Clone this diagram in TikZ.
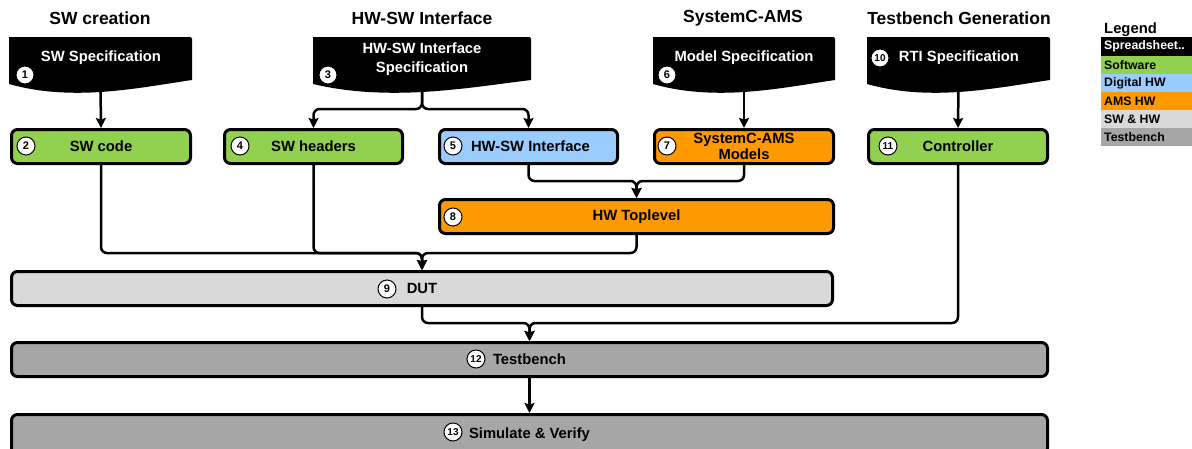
\documentclass[tikz,border=0pt]{standalone}
\usepackage{fontspec}
\setmainfont{Liberation Sans}
\usetikzlibrary{arrows.meta}
\definecolor{swgreen}{HTML}{92D050}
\definecolor{dhwblue}{HTML}{99CCFF}
\definecolor{amsorange}{HTML}{FF9900}
\definecolor{swhwgrey}{HTML}{D9D9D9}
\definecolor{tbgrey}{HTML}{A6A6A6}
\newcommand{\mydoc}[3]{%
  \fill[black] (#2,84) -- (#2,37) -- ({#3-2},37) to[out=0,in=90] (#3,39) -- (#3,80)
    .. controls ({#2+0.7*(#3-#2)},88) and ({#2+0.35*(#3-#2)},102) .. (#2,84) -- cycle;
  \coordinate (#1) at ({(#2+#3)/2},86);
}
\tikzset{
  hdr/.style={font=\bfseries\fontsize{17.5}{20}\selectfont},
  doctext/.style={text=white, font=\bfseries\fontsize{14.8}{18.5}\selectfont, align=center},
  boxtext/.style={font=\bfseries\fontsize{14.8}{15.5}\selectfont, align=center},
  procbox/.style={draw=black, line width=3pt, rounded corners=6pt, minimum height=34pt, inner sep=0pt},
  numc/.style={circle, draw=black, fill=white, line width=1pt, inner sep=0pt, minimum size=18pt,
    font=\bfseries\fontsize{11}{11}\selectfont},
  numw/.style={numc, font=\bfseries\fontsize{10}{10}\selectfont},
  conn/.style={line width=2.5pt, rounded corners=6pt, -{Stealth[length=10pt,width=10pt,inset=1.5pt]}},
  legrow/.style={anchor=west, inner sep=0pt, font=\bfseries\fontsize{12.3}{12}\selectfont},
}
\begin{document}
\begin{tikzpicture}[x=1pt,y=-1pt]
\path[use as bounding box] (0,0) rectangle (1192,448);
\clip (0,0) rectangle (1192,448);

% headers
\node[hdr] (h1) at (100,18) {SW creation};
\node[hdr] (h2) at (422,18) {HW-SW Interface};
\node[hdr] (h3) at (743,18) {SystemC-AMS};
\node[hdr] (h4) at (959,18) {Testbench Generation};

% documents
\mydoc{swspecB}{9}{192}
\mydoc{hwspecB}{313}{531}
\mydoc{modspecB}{653}{835}
\mydoc{rtispecB}{867}{1050}
\node[doctext] (t1) at (101,58) {SW Specification};
\node[numc] (n1) at (25,75) {1};
\node[doctext] (t3) at (422,59) {HW-SW Interface\\Specification};
\node[numc] (n3) at (328,75) {3};
\node[doctext] (t6) at (744,58) {Model Specification};
\node[numc] (n6) at (667,75) {6};
\node[doctext] (t10) at (959,58) {RTI Specification};
\node[numw] (n10) at (880,58) {10};

% process boxes
\node[procbox, fill=swgreen, minimum width=179pt, boxtext] (swcode) at (101,146.5) {SW code};
\node[procbox, fill=swgreen, minimum width=178pt, boxtext] (swhead) at (313.5,146.5) {SW headers};
\node[procbox, fill=dhwblue, minimum width=178pt, boxtext] (hwsw) at (528.5,146.5) {\hspace*{4pt}HW-SW Interface};
\node[procbox, fill=amsorange, minimum width=179pt, boxtext] (sams) at (744,146.5) {SystemC-AMS\\Models};
\node[procbox, fill=swgreen, minimum width=179pt, boxtext] (ctrl) at (958,146.5) {Controller};
\node[procbox, fill=amsorange, minimum width=394pt, boxtext] (hwtop) at (636.5,216.5) {HW Toplevel};
\node[procbox, fill=swhwgrey, minimum width=821pt, boxtext] (dut) at (422,288.5) {DUT};
\node[procbox, fill=tbgrey, minimum width=1036pt, boxtext] (tb) at (529.5,359.5) {Testbench};
\node[procbox, fill=tbgrey, minimum width=1036pt, minimum height=40pt, boxtext] (sim) at (529.5,434.5) {\raisebox{3pt}{Simulate \& Verify}};

\node[numc] (n2) at (26,146) {2};
\node[numc] (n4) at (240,146) {4};
\node[numc] (n5) at (453,146) {5};
\node[numc] (n7) at (667,146) {7};
\node[numw] (n11) at (888,146) {11};
\node[numc] (n8) at (453,217) {8};
\node[numc] (n9) at (387,289) {9};
\node[numw] (n12) at (476,359) {12};
\node[numw] (n13) at (453,432) {13};

% join points
\coordinate (s1) at (422,109);
\coordinate (j1) at (636.5,181);
\coordinate (j2) at (422,253);
\coordinate (j3) at (529.5,323);

% connectors
\draw[conn] (swspecB) -- (swcode.north);
\draw[conn] (hwspecB) -- (s1) -| (swhead.north);
\draw[conn] (hwspecB) -- (s1) -| (hwsw.north);
\draw[conn] (modspecB) -- (sams.north);
\draw[conn] (rtispecB) -- (ctrl.north);
\draw[conn] (hwsw.south) |- (j1) -- (hwtop.north);
\draw[conn] (sams.south) |- (j1) -- (hwtop.north);
\draw[conn] (swcode.south) |- (j2) -- (dut.north);
\draw[conn] (swhead.south) |- (j2) -- (dut.north);
\draw[conn] (hwtop.south) |- (j2) -- (dut.north);
\draw[conn] (dut.south) |- (j3) -- (tb.north);
\draw[conn] (ctrl.south) |- (j3) -- (tb.north);
\draw[conn] (tb.south) -- (sim.north);

% legend
\node[font=\bfseries\fontsize{14.8}{15}\selectfont, anchor=west, inner sep=0pt] (legt) at (1104,30) {Legend};
\fill[black] (1101,37) rectangle (1192,56);
\fill[swgreen] (1101,56) rectangle (1192,74);
\fill[dhwblue] (1101,74) rectangle (1192,92);
\fill[amsorange] (1101,92) rectangle (1192,110);
\fill[swhwgrey] (1101,110) rectangle (1192,128);
\fill[tbgrey] (1101,128) rectangle (1192,146);
\node[legrow, text=white] (l1) at (1104,46.5) {Spreadsheet..};
\node[legrow] (l2) at (1104,65) {Software};
\node[legrow] (l3) at (1104,83) {Digital HW};
\node[legrow] (l4) at (1104,101) {AMS HW};
\node[legrow] (l5) at (1104,119) {SW \& HW};
\node[legrow] (l6) at (1104,137) {Testbench};
\end{tikzpicture}
\end{document}
